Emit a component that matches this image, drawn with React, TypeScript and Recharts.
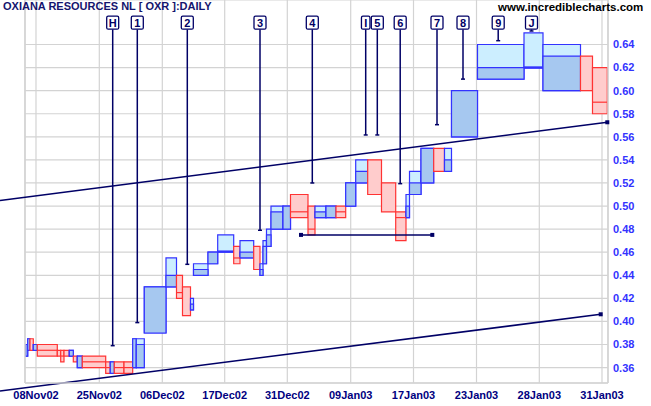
import React from 'react';
import {
  ComposedChart,
  XAxis,
  YAxis,
  CartesianGrid,
  ReferenceArea,
  ReferenceLine,
  ReferenceDot,
  Line,
} from 'recharts';

// Equivolume bars: width = volume, box = high..low
const volumes = [2.0, 2.3, 3.3, 4.0, 20.0, 3.4, 3.3, 5.3, 4.0, 4.0, 5.0, 23.4, 4.6, 4.0, 9.7, 8.7, 3.6, 8.0,
  21.7, 10.5, 6.0, 8.0, 3.0, 14.5, 9.7, 16.0, 6.3, 13.7, 6.3, 3.0, 3.5, 4.5, 12.0, 7.5, 17.5, 7.0, 11.0, 10.0,
  9.7, 10.0, 12.0, 13.8, 14.2, 10.3, 3.5, 11.5, 12.7, 10.8, 7.0, 26.0, 46.5, 19.0, 37.5, 12.0, 14.8];
const opens = [0.37, 0.375, 0.385, 0.375, 0.38, 0.375, 0.375, 0.375, 0.37, 0.37, 0.36, 0.37, 0.365, 0.355, 0.365, 0.365, 0.36, 0.36,
  0.39, 0.43, 0.44, 0.43, 0.41, 0.44, 0.45, 0.46, 0.465, 0.455, 0.465, 0.44, 0.45, 0.465, 0.48, 0.48, 0.51, 0.50, 0.49, 0.49,
  0.50, 0.50, 0.52, 0.54, 0.52, 0.495, 0.49, 0.51, 0.52, 0.55, 0.53, 0.56, 0.61, 0.62, 0.60, 0.63, 0.62];
const highs = [0.38, 0.385, 0.385, 0.38, 0.38, 0.375, 0.375, 0.375, 0.375, 0.37, 0.37, 0.37, 0.365, 0.365, 0.365, 0.365, 0.385, 0.385,
  0.43, 0.455, 0.44, 0.43, 0.42, 0.45, 0.46, 0.475, 0.465, 0.47, 0.465, 0.45, 0.47, 0.48, 0.50, 0.50, 0.51, 0.50, 0.50, 0.50,
  0.50, 0.52, 0.54, 0.54, 0.52, 0.495, 0.51, 0.53, 0.55, 0.55, 0.55, 0.60, 0.64, 0.65, 0.64, 0.63, 0.62];
const lows = [0.37, 0.375, 0.375, 0.375, 0.37, 0.37, 0.365, 0.37, 0.37, 0.365, 0.36, 0.36, 0.355, 0.355, 0.355, 0.355, 0.36, 0.36,
  0.39, 0.43, 0.42, 0.405, 0.41, 0.44, 0.45, 0.46, 0.45, 0.455, 0.445, 0.44, 0.45, 0.465, 0.48, 0.48, 0.49, 0.475, 0.49, 0.49,
  0.49, 0.50, 0.52, 0.51, 0.495, 0.47, 0.49, 0.51, 0.52, 0.53, 0.53, 0.56, 0.61, 0.62, 0.60, 0.60, 0.58];
const closes = [0.38, 0.385, 0.375, 0.38, 0.375, 0.37, 0.37, 0.37, 0.375, 0.365, 0.37, 0.365, 0.36, 0.365, 0.36, 0.36, 0.385, 0.38,
  0.43, 0.44, 0.425, 0.405, 0.415, 0.445, 0.46, 0.461, 0.455, 0.46, 0.445, 0.445, 0.465, 0.475, 0.495, 0.50, 0.495, 0.48, 0.495, 0.50,
  0.495, 0.52, 0.53, 0.51, 0.495, 0.49, 0.50, 0.52, 0.55, 0.53, 0.54, 0.60, 0.62, 0.62, 0.63, 0.60, 0.59];
const START = 0.7;

const xTickValues = [11, 74.3, 137.3, 199.7, 262.3, 325.7, 388.5, 451.5, 514.3, 577];
const xTickLabels = ['08Nov02', '25Nov02', '06Dec02', '17Dec02', '31Dec02', '09Jan03', '17Jan03', '23Jan03', '28Jan03', '31Jan03'];
const yTicks = [0.36, 0.38, 0.4, 0.42, 0.44, 0.46, 0.48, 0.5, 0.52, 0.54, 0.56, 0.58, 0.6, 0.62, 0.64];

const markerLabels = ['H', '1', '2', '3', '4', 'I', '5', '6', '7', '8', '9', 'J'];
const markerX = [87.7, 112.3, 162.3, 235, 287.3, 340.7, 352.3, 375.2, 412, 438, 473.2, 506.5];
const markerPrice = [0.379, 0.399, 0.4495, 0.479, 0.52, 0.5616, 0.5616, 0.5194, 0.5705, 0.61, 0.6433, 0.6517];
const MARKER_BOX_PRICE = 0.6589;
const MARKER_LINE_TOP = 0.6532;

const upperTrend = [{ x: -25, y: 0.5048 }, { x: 582.3, y: 0.5726 }];
const lowerTrend = [{ x: -25, y: 0.3397 }, { x: 575.7, y: 0.4062 }];
const support = [{ x: 276, y: 0.475 }, { x: 407.3, y: 0.475 }];

const X_DOMAIN: [number, number] = [0, 583];
const Y_DOMAIN: [number, number] = [0.34665, 0.67856];

const BLUE = '#3333ff';
const LIGHT = '#cceeff';
const DARK = '#a6c8f0';
const RED = '#ff3333';
const PINK = '#ffcccc';
const NAVY = '#000066';
const GRID = '#d3d3d3';

let cursor = START;
const candles = volumes.map((v, i) => {
  const x1 = cursor;
  cursor += v;
  return { x1, x2: cursor, mid: (x1 + cursor) / 2, open: opens[i], high: highs[i], low: lows[i], close: closes[i] };
});

const square = (p: any) => <rect x={p.cx - 2} y={p.cy - 2} width={4} height={4} fill={NAVY} />;

export default function App() {
  const els: React.ReactNode[] = [];
  candles.forEach((c, i) => {
    const up = c.close >= c.open;
    if (up) {
      els.push(
        <ReferenceArea key={`a${i}`} x1={c.x1} x2={c.x2} y1={c.low} y2={c.high} fill={LIGHT} fillOpacity={1}
          stroke={BLUE} strokeWidth={1.2} ifOverflow="visible" />
      );
      if (c.close > c.open) {
        els.push(
          <ReferenceArea key={`b${i}`} x1={c.x1} x2={c.x2} y1={c.open} y2={c.close} fill={DARK} fillOpacity={1}
            stroke={BLUE} strokeWidth={1.2} ifOverflow="visible" />
        );
      } else {
        els.push(
          <ReferenceLine key={`b${i}`} segment={[{ x: c.x1, y: c.close }, { x: c.x2, y: c.close }]} stroke={BLUE}
            strokeWidth={2.5} ifOverflow="visible" />
        );
      }
    } else {
      els.push(
        <ReferenceArea key={`a${i}`} x1={c.x1} x2={c.x2} y1={c.low} y2={c.high} fill={PINK} fillOpacity={1}
          stroke={RED} strokeWidth={1.2} ifOverflow="visible" />
      );
      if (c.close > c.low) {
        els.push(
          <ReferenceLine key={`b${i}`} segment={[{ x: c.x1, y: c.close }, { x: c.x2, y: c.close }]} stroke={RED}
            strokeWidth={1.2} ifOverflow="visible" />
        );
      }
    }
  });

  const markers: React.ReactNode[] = [];
  markerLabels.forEach((lab, i) => {
    const w = lab === 'I' ? 8.5 : 12;
    markers.push(
      <ReferenceLine key={`ml${i}`} segment={[{ x: markerX[i], y: markerPrice[i] }, { x: markerX[i], y: MARKER_LINE_TOP }]}
        stroke={NAVY} strokeWidth={1.5} ifOverflow="visible" />
    );
    markers.push(
      <ReferenceDot key={`mt${i}`} x={markerX[i]} y={markerPrice[i]} ifOverflow="visible"
        shape={(p: any) => <line x1={p.cx - 2} x2={p.cx + 2} y1={p.cy} y2={p.cy} stroke={NAVY} strokeWidth={1.5} />} />
    );
    markers.push(
      <ReferenceDot key={`mb${i}`} x={markerX[i]} y={MARKER_BOX_PRICE} ifOverflow="visible"
        shape={(p: any) => (
          <g>
            <rect x={p.cx - w / 2} y={p.cy - 6.5} width={w} height={13} rx={1.5} fill="#ffffff" stroke={NAVY} strokeWidth={1.3} />
            <text x={p.cx} y={p.cy + 4} textAnchor="middle" fontSize={11} fontWeight="bold" fill={NAVY}
              fontFamily="'Liberation Sans', Arial, sans-serif">{lab}</text>
          </g>
        )} />
    );
  });

  return (
    <div style={{ position: 'relative', width: 651, height: 406, background: '#ffffff', fontFamily: "'Liberation Sans', Arial, sans-serif" }}>
      <style>{`body{margin:0;}`}</style>
      <ComposedChart width={651} height={406} data={candles} margin={{ top: 0, right: 0, bottom: 0, left: 25 }}>
        <CartesianGrid stroke={GRID} strokeWidth={1.2} />
        <XAxis type="number" dataKey="mid" domain={X_DOMAIN} allowDataOverflow ticks={xTickValues} interval={0}
          tickFormatter={(v: number) => xTickLabels[xTickValues.indexOf(v)] ?? ''} height={23}
          axisLine={{ stroke: GRID, strokeWidth: 1.5 }} tickLine={false} tickSize={6} tickMargin={2.5}
          tick={{ fill: '#000080', fontSize: 11, fontWeight: 'bold', fontFamily: "'Liberation Sans', Arial, sans-serif" }} />
        <YAxis type="number" orientation="right" domain={Y_DOMAIN} allowDataOverflow ticks={yTicks} interval={0} width={43}
          tickFormatter={(v: number) => v.toFixed(2)} axisLine={{ stroke: GRID, strokeWidth: 1.5 }} tickLine={false}
          tickSize={3} tickMargin={2}
          tick={{ fill: BLUE, fontSize: 11, fontWeight: 'bold', fontFamily: "'Liberation Sans', Arial, sans-serif" }} />
        <ReferenceLine x={0} stroke={GRID} strokeWidth={1.5} ifOverflow="visible" />
        {els}
        <ReferenceLine segment={upperTrend} stroke={NAVY} strokeWidth={1.5} ifOverflow="visible" />
        <ReferenceLine segment={lowerTrend} stroke={NAVY} strokeWidth={1.5} ifOverflow="visible" />
        <ReferenceLine segment={support} stroke={NAVY} strokeWidth={1.5} ifOverflow="visible" />
        <ReferenceDot x={upperTrend[1].x} y={upperTrend[1].y} shape={square} ifOverflow="visible" />
        <ReferenceDot x={lowerTrend[1].x} y={lowerTrend[1].y} shape={square} ifOverflow="visible" />
        <ReferenceDot x={support[0].x} y={support[0].y} shape={square} ifOverflow="visible" />
        <ReferenceDot x={support[1].x} y={support[1].y} shape={square} ifOverflow="visible" />
        {markers}
        <Line dataKey="close" stroke="none" dot={false} activeDot={false} isAnimationActive={false} legendType="none" />
      </ComposedChart>
      <div style={{ position: 'absolute', left: 3, top: 0, fontSize: 11, fontWeight: 'bold', color: '#14146e', lineHeight: '13px', whiteSpace: 'nowrap' }}>
        OXIANA RESOURCES NL [ OXR ]:DAILY
      </div>
      <div style={{ position: 'absolute', left: 498, top: 0, fontSize: 11.5, fontWeight: 'bold', color: '#000000', lineHeight: '14px', whiteSpace: 'nowrap' }}>
        www.incrediblecharts.com
      </div>
    </div>
  );
}
